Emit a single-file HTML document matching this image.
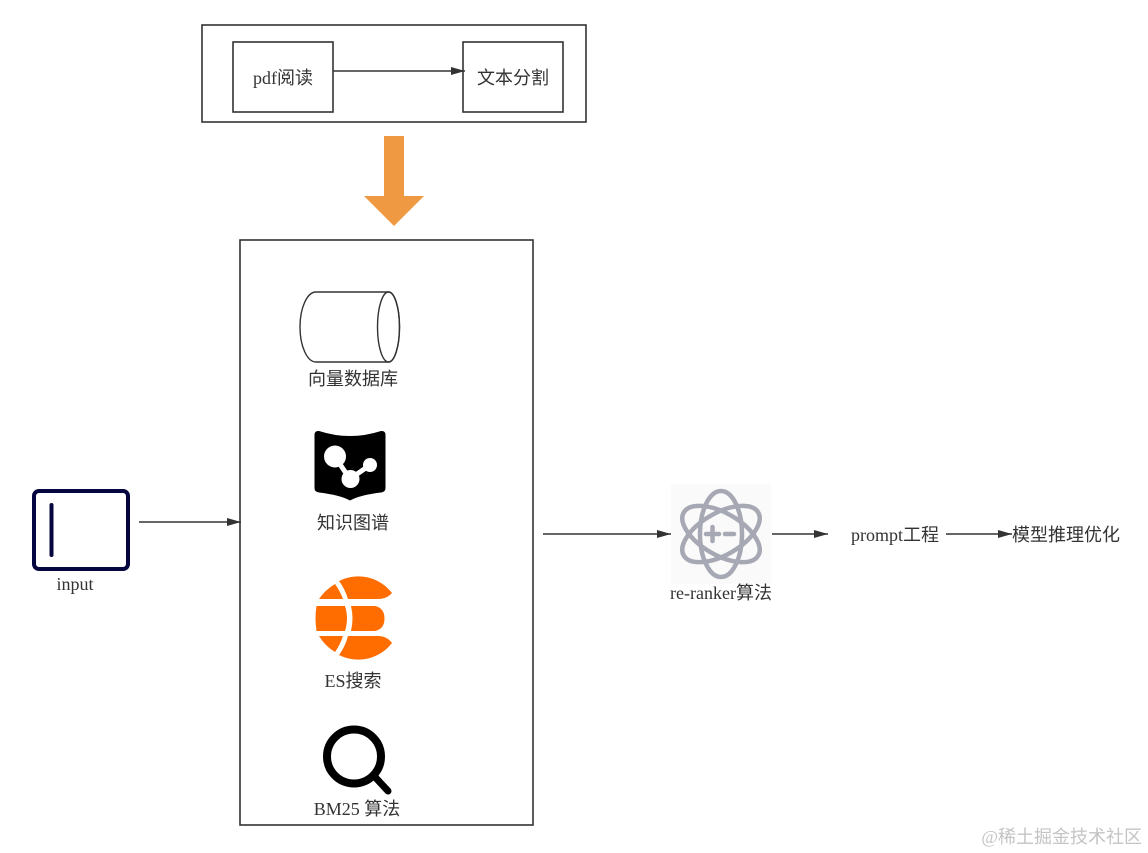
<!DOCTYPE html>
<html>
<head>
<meta charset="utf-8">
<style>
html,body{margin:0;padding:0;background:#fff;width:1148px;height:853px;overflow:hidden}
svg{display:block}
text{font-family:"Liberation Serif","Noto Sans CJK SC",serif;fill:#333;font-size:18px}
</style>
</head>
<body>
<svg width="1148" height="853" viewBox="0 0 1148 853">
<defs>
<marker id="a" markerUnits="userSpaceOnUse" markerWidth="14" markerHeight="10" refX="14" refY="5" orient="auto"><path d="M0 1 L14 5 L0 9 Z" fill="#333"/></marker>
</defs>
<rect x="202" y="25" width="384" height="97" fill="none" stroke="#333" stroke-width="1.6"/>
<rect x="233" y="42" width="100" height="70" fill="none" stroke="#333" stroke-width="1.6"/>
<rect x="463" y="42" width="100" height="70" fill="none" stroke="#333" stroke-width="1.6"/>
<text x="283" y="84" text-anchor="middle">pdf阅读</text>
<text x="513" y="84" text-anchor="middle">文本分割</text>
<line x1="333" y1="71" x2="465" y2="71" stroke="#333" stroke-width="1.5" marker-end="url(#a)"/>
<path d="M384 136 H404 V196 H424 L394 226 L364 196 H384 Z" fill="#ef9a43"/>
<rect x="240" y="240" width="293" height="585" fill="none" stroke="#333" stroke-width="1.6"/>
<path d="M316 292 H388.500 A11 35 0 0 1 388.500 362 H316 A16 35 0 0 1 316 292 Z" fill="none" stroke="#333" stroke-width="1.400"/>
<ellipse cx="388.500" cy="327" rx="11" ry="35" fill="none" stroke="#333" stroke-width="1.400"/>
<text x="353" y="385" text-anchor="middle">向量数据库</text>
<path d="M319 431 Q350 441 381 431 Q385.500 430.500 385.500 435 V488 Q385.500 492 381 492.500 Q360 495 350 500.500 Q340 495 319 492.500 Q314.500 492 314.500 488 V435 Q314.500 430.500 319 431 Z" fill="#000"/>
<line x1="335" y1="457" x2="350" y2="479" stroke="#fff" stroke-width="5"/>
<line x1="350" y1="479" x2="370" y2="465" stroke="#fff" stroke-width="5"/>
<circle cx="335" cy="456.500" r="11" fill="#fff"/>
<circle cx="350.500" cy="479" r="9" fill="#fff"/>
<circle cx="370" cy="465" r="7" fill="#fff"/>
<text x="353" y="529" text-anchor="middle">知识图谱</text>
<path d="M339 581 A42.500 42.500 0 0 1 392 593 Q387 599 378 599 H348 Q345 589 339 581 Z" fill="#ff6d00"/>
<path d="M335 584 Q340 591 343 599 H319 Q325 590 335 584 Z" fill="#ff6d00"/>
<path d="M316.500 606 H345 Q349 618 345 631 H316.500 Q314.500 618 316.500 606 Z" fill="#ff6d00"/>
<path d="M351 606 H375 Q384.500 608 384.500 618.500 Q384.500 629 375 631 H351 Q354 618 351 606 Z" fill="#ff6d00"/>
<path d="M319 636 H343 Q340 645 335 652 Q325 646 319 636 Z" fill="#ff6d00"/>
<path d="M348 636 H378 Q387 636 392 643 A42.500 42.500 0 0 1 339 655 Q345 647 348 636 Z" fill="#ff6d00"/>
<text x="353" y="687" text-anchor="middle">ES搜索</text>
<circle cx="354" cy="756.500" r="27" fill="none" stroke="#000" stroke-width="8"/>
<line x1="375" y1="777" x2="388" y2="791" stroke="#000" stroke-width="7" stroke-linecap="round"/>
<text x="357" y="815" text-anchor="middle">BM25 算法</text>
<rect x="34" y="491" width="94" height="78" rx="5" fill="none" stroke="#05053f" stroke-width="4"/>
<line x1="51.500" y1="505" x2="51.500" y2="555" stroke="#05053f" stroke-width="4" stroke-linecap="round"/>
<text x="75" y="590" text-anchor="middle">input</text>
<line x1="139" y1="522" x2="241" y2="522" stroke="#333" stroke-width="1.500" marker-end="url(#a)"/>
<line x1="543" y1="534" x2="671" y2="534" stroke="#333" stroke-width="1.500" marker-end="url(#a)"/>
<rect x="671" y="484" width="100" height="100" fill="#fafafa"/>
<g fill="none" stroke="#a6a8b4" stroke-width="4.500">
<ellipse cx="721" cy="534" rx="21" ry="43"/>
<ellipse cx="721" cy="534" rx="21" ry="43" transform="rotate(60 721 534)"/>
<ellipse cx="721" cy="534" rx="21" ry="43" transform="rotate(-60 721 534)"/>
<path d="M706 534 H719 M712.500 527 V541 M725 534 H734" stroke-linecap="round"/>
</g>
<text x="721" y="599" text-anchor="middle">re-ranker算法</text>
<line x1="772" y1="534" x2="828" y2="534" stroke="#333" stroke-width="1.500" marker-end="url(#a)"/>
<text x="895" y="541" text-anchor="middle">prompt工程</text>
<line x1="946" y1="534" x2="1012" y2="534" stroke="#333" stroke-width="1.500" marker-end="url(#a)"/>
<text x="1066" y="541" text-anchor="middle">模型推理优化</text>
<text x="1142" y="843" text-anchor="end" style="font-size:18px;fill:#c4c4c4">@稀土掘金技术社区</text>
</svg>
</body>
</html>
